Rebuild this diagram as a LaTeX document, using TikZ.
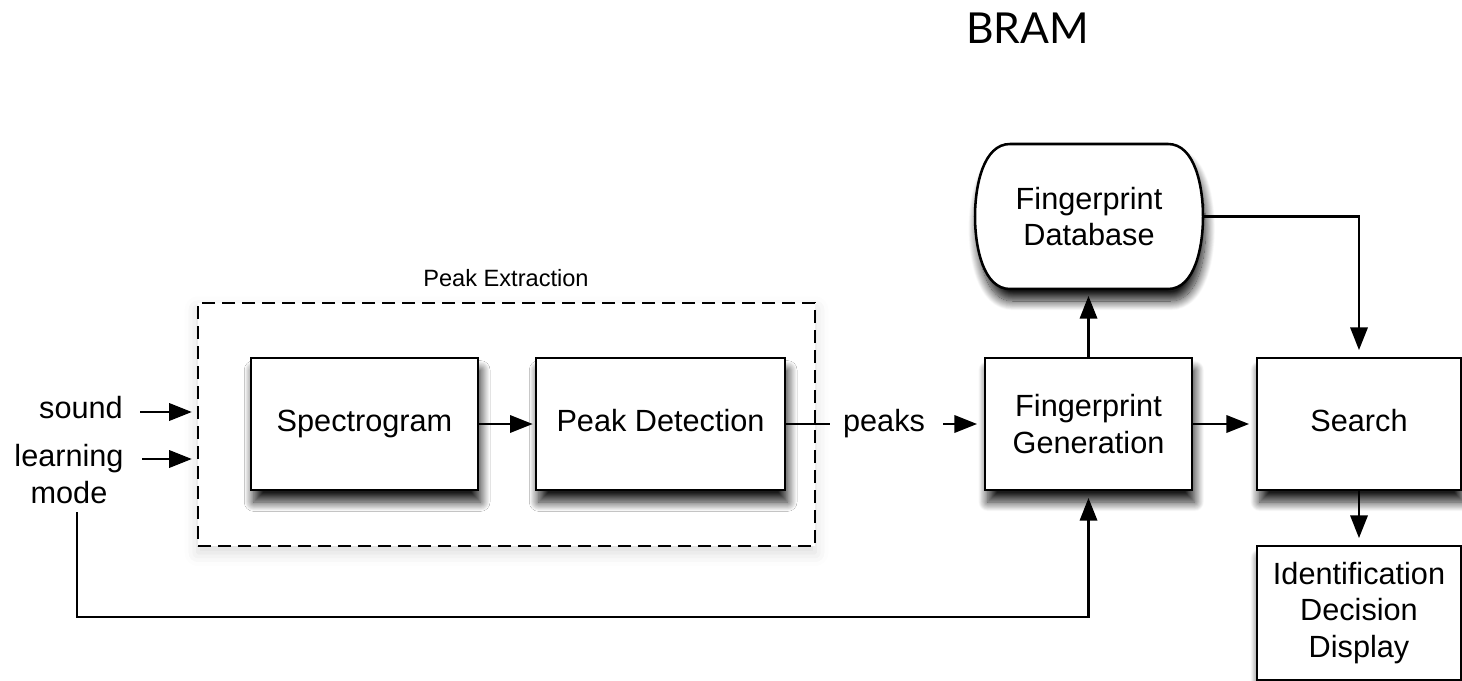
\documentclass[tikz,border=0pt]{standalone}
\usepackage{fontspec}
\setmainfont{Liberation Sans}
\newfontfamily\bramfont{Lato}
\usetikzlibrary{arrows.meta,shapes.misc,shadows.blur,calc}
\begin{document}
\begin{tikzpicture}[x=0.75pt,y=-0.75pt,
  font=\fontsize{23}{27.5}\selectfont,
  shadowed/.style={blur shadow={shadow xshift=2pt,shadow yshift=-9pt,shadow blur radius=7pt,shadow blur steps=20,shadow opacity=90}},
  box/.style={draw,line width=1.9pt,fill=white,minimum height=99pt,align=center,inner sep=0pt,shadowed},
  oneline/.style={text height=16.6pt,text depth=4.8pt},
  groupbox/.style={draw,line width=1.8pt,dash pattern=on 10pt off 5pt,fill=white,inner sep=0pt,
     blur shadow={shadow xshift=0pt,shadow yshift=-5pt,shadow blur radius=10pt,shadow opacity=15}},
  arr/.style={line width=1.8pt,-{Triangle[length=17pt,width=13pt,fill=black,color=black]}},
  conn/.style={line width=1.8pt},
  lbl/.style={inner sep=0pt,align=center}]
\useasboundingbox (0,0) rectangle (1462,681);

\node[anchor=base,inner sep=0pt,font=\bramfont\fontsize{32}{38}\selectfont] (bram) at (1027.5,44) {BRAM};

\node[groupbox,minimum width=462.75pt,minimum height=182.25pt] (extract) at (506.5,424.5) {};
\node[lbl,font=\fontsize{17.7}{21}\selectfont] (title) at (506,278) {Peak Extraction};

\node[box,oneline,minimum width=170.25pt] (spec) at (364.5,424) {Spectrogram};
\node[box,oneline,minimum width=186.75pt] (peakdet) at (660.5,424) {Peak Detection};
\node[box,minimum width=155.25pt] (fpgen) at (1088.5,424) {Fingerprint\\Generation};
\node[box,oneline,minimum width=153pt] (search) at (1359,424) {Search};
\node[box,minimum width=153pt,minimum height=100.5pt] (ident) at (1359,613) {Identification\\Decision\\Display};

% database: rectangle node for anchors, outline drawn with bulging sides
\coordinate (dbc) at (1089,216.5);
\path[draw,line width=1.9pt,fill=white,shadowed]
  ([shift={(-79,-72.5)}]dbc) -- ([shift={(79,-72.5)}]dbc)
  .. controls ([shift={(106,-72.5)}]dbc) and ([shift={(114,-30)}]dbc) .. ([shift={(114,0)}]dbc)
  .. controls ([shift={(114,30)}]dbc) and ([shift={(106,72.5)}]dbc) .. ([shift={(79,72.5)}]dbc)
  -- ([shift={(-79,72.5)}]dbc)
  .. controls ([shift={(-106,72.5)}]dbc) and ([shift={(-114,30)}]dbc) .. ([shift={(-114,0)}]dbc)
  .. controls ([shift={(-114,-30)}]dbc) and ([shift={(-106,-72.5)}]dbc) .. ([shift={(-79,-72.5)}]dbc) -- cycle;
\node[lbl,minimum width=171pt,minimum height=108.75pt] (db) at (dbc) {Fingerprint\\Database};

\node[lbl,oneline,anchor=east] (sound) at (123,411) {sound};
\node[lbl] (learn) at (69,474) {learning\\mode};
\node[lbl,oneline] (peaks) at (884,424) {peaks};

\coordinate (s0) at (140,412);
\coordinate (l0) at (142,459);
\coordinate (pk) at (830,424);
\coordinate (pk2) at (943,424);
\coordinate (lm0) at (77,512);
\coordinate (lm1) at (77,617);

\draw[arr,shorten >=3.75pt] (s0) -- (s0 -| extract.west);
\draw[arr,shorten >=3.75pt] (l0) -- (l0 -| extract.west);
\draw[arr,shorten >=1.5pt] (spec) -- (peakdet);
\draw[conn] (peakdet.east) -- (pk);
\draw[arr,shorten >=5pt] (pk2) -- (fpgen.west);
\draw[arr,shorten >=5pt] (fpgen) -- (search);
\draw[arr,shorten >=5pt] (fpgen.north) -- (fpgen.north |- db.south);
\draw[arr,shorten >=5pt] (db.east) -| (search.north);
\draw[arr,shorten >=5pt] (search.south) -- (ident.north);
\draw[arr,shorten >=5pt] (lm0) -- (lm1) -| (fpgen.south);
\end{tikzpicture}
\end{document}
